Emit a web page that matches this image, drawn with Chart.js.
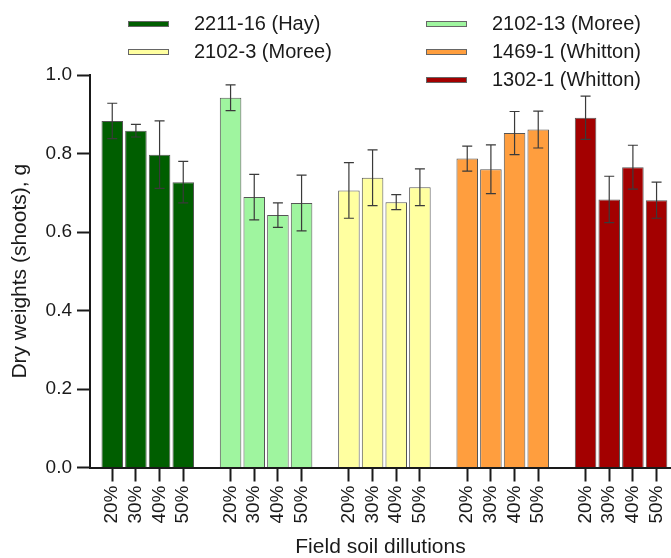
<!DOCTYPE html>
<html>
<head>
<meta charset="utf-8">
<script src="https://cdn.jsdelivr.net/npm/chart.js@4.4.1/dist/chart.umd.min.js"></script>
<style>
    html, body { margin: 0; padding: 0; background: #fff; }
    #wrap { width: 671px; height: 558px; }
</style>
</head>
<body>
<div id="wrap"><canvas id="dry_chart" width="671" height="558"></canvas></div>
<script>
// dilution levels, same order in every strain group
const dilutions = ["20%", "30%", "40%", "50%"];

const strains = ["2211-16 (Hay)", "2102-13 (Moree)", "2102-3 (Moree)", "1469-1 (Whitton)", "1302-1 (Whitton)"];
const strainColors = ["#005e00", "#9ff59f", "#ffffa0", "#ff9e3e", "#a30000"];

// mean dry weight of shoots (g)
const hay_2211_16 = [0.883, 0.858, 0.797, 0.727];
const moree_2102_13 = [0.942, 0.689, 0.643, 0.674];
const moree_2102_3 = [0.706, 0.738, 0.676, 0.714];
const whitton_1469_1 = [0.787, 0.760, 0.852, 0.861];
const whitton_1302_1 = [0.891, 0.683, 0.765, 0.681];

// error bar half lengths
const hay_2211_16_err = [0.045, 0.016, 0.086, 0.053];
const moree_2102_13_err = [0.033, 0.058, 0.031, 0.071];
const moree_2102_3_err = [0.071, 0.071, 0.019, 0.047];
const whitton_1469_1_err = [0.032, 0.062, 0.055, 0.047];
const whitton_1302_1_err = [0.055, 0.059, 0.056, 0.046];

const means = [hay_2211_16, moree_2102_13, moree_2102_3, whitton_1469_1, whitton_1302_1];
const errors = [hay_2211_16_err, moree_2102_13_err, moree_2102_3_err, whitton_1469_1_err, whitton_1302_1_err];

Chart.defaults.font.family = "'Liberation Sans', Arial, sans-serif";
Chart.defaults.color = "#1a1a1a";

// each group takes 4 slots + 1 empty slot on a linear x axis
const slot = (g, i) => g * (dilutions.length + 1) + i;
const positions = [];

const datasets = strains.map((name, g) => {
    const pts = means[g].map((v, i) => {
        positions.push(slot(g, i));
        return { x: slot(g, i), y: v };
    });
    return {
        label: name,
        data: pts,
        errors: errors[g],
        backgroundColor: strainColors[g]
    };
});

// draws the whiskers using the y scale
const errorBars = {
    id: "errorBars",
    afterDatasetsDraw(chart) {
        const ctx = chart.ctx;
        const yScale = chart.scales.y;
        ctx.save();
        ctx.strokeStyle = "#3a3a3a";
        ctx.lineWidth = 1.2;
        chart.data.datasets.forEach((ds, d) => {
            const meta = chart.getDatasetMeta(d);
            meta.data.forEach((bar, i) => {
                const v = ds.data[i].y;
                const e = ds.errors[i];
                const top = yScale.getPixelForValue(v + e);
                const bottom = yScale.getPixelForValue(v - e);
                ctx.beginPath();
                ctx.moveTo(bar.x, top);
                ctx.lineTo(bar.x, bottom);
                ctx.moveTo(bar.x - 5, top);
                ctx.lineTo(bar.x + 5, top);
                ctx.moveTo(bar.x - 5, bottom);
                ctx.lineTo(bar.x + 5, bottom);
                ctx.stroke();
            });
        });
        ctx.restore();
    }
};

// two column legend like the original (last item goes to the right column)
const sideLegend = {
    id: "sideLegend",
    afterDraw(chart) {
        const ctx = chart.ctx;
        const n = chart.data.datasets.length;
        ctx.save();
        ctx.font = "20px 'Liberation Sans', Arial, sans-serif";
        ctx.textBaseline = "middle";
        chart.data.datasets.forEach((ds, i) => {
            let col = i % 2;
            const row = Math.floor(i / 2);
            if (i === n - 1 && n % 2 === 1) col = 1;
            const sx = col === 0 ? 128 : 426;
            const y = 24 + row * 28;
            ctx.fillStyle = ds.backgroundColor;
            ctx.fillRect(sx, y - 3, 41, 6);
            ctx.strokeStyle = "#666";
            ctx.lineWidth = 1;
            ctx.strokeRect(sx + 0.5, y - 2.5, 40, 5);
            ctx.fillStyle = "#1a1a1a";
            ctx.fillText(ds.label, sx + 66, y);
        });
        ctx.restore();
    }
};

new Chart("dry_chart", {
    type: "bar",
    data: { datasets: datasets },
    options: {
        responsive: false,
        animation: false,
        layout: { padding: { top: 75, left: 0, right: 0, bottom: 0 } },
        plugins: {
            legend: { display: false },
            tooltip: { enabled: false }
        },
        datasets: {
            bar: {
                grouped: false,
                categoryPercentage: 1,
                barPercentage: 0.91,
                borderWidth: 1,
                borderColor: "#555"
            }
        },
        scales: {
            x: {
                type: "linear",
                offset: false,
                min: -0.94,
                max: 23.61,
                afterBuildTicks: axis => { axis.ticks = positions.map(v => ({ value: v })); },
                afterFit: axis => {
                    axis.height = 90.5;
                    axis.paddingLeft = 0;
                    axis.paddingRight = 0;
                },
                ticks: {
                    autoSkip: false,
                    minRotation: 90,
                    maxRotation: 90,
                    padding: 4,
                    font: { size: 19 },
                    callback: v => dilutions[v % (dilutions.length + 1)]
                },
                grid: { offset: false, drawOnChartArea: false, tickLength: 14, tickWidth: 2, tickColor: "#1a1a1a" },
                border: { color: "#1a1a1a", width: 2 },
                title: {
                    display: true,
                    text: "Field soil dillutions",
                    font: { size: 21, lineHeight: 1 },
                    padding: { top: 0, bottom: 0 }
                }
            },
            y: {
                min: 0,
                max: 1,
                afterFit: axis => { axis.width = 90; },
                ticks: {
                    stepSize: 0.2,
                    padding: 5,
                    font: { size: 19 },
                    callback: v => v.toFixed(1)
                },
                grid: { drawOnChartArea: false, tickLength: 13, tickWidth: 2, tickColor: "#1a1a1a" },
                border: { color: "#1a1a1a", width: 2 },
                title: {
                    display: true,
                    text: "Dry weights (shoots), g",
                    font: { size: 21 },
                    padding: { top: 8, bottom: 0 }
                }
            }
        }
    },
    plugins: [errorBars, sideLegend]
});
</script>
</body>
</html>
